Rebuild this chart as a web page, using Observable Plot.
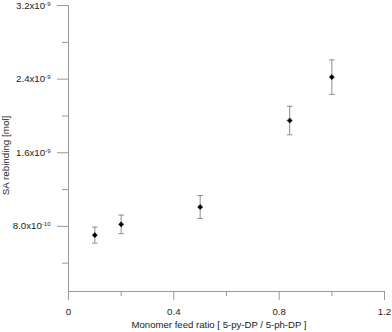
<!DOCTYPE html>
<html>
<head>
<meta charset="utf-8">
<script src="https://cdn.jsdelivr.net/npm/d3@7"></script>
<script src="https://cdn.jsdelivr.net/npm/@observablehq/plot@0.6"></script>
<style>
  html, body { margin: 0; padding: 0; background: #fff; }
  #chart svg { display: block; }
</style>
</head>
<body>
<div id="chart"></div>
<script>
// Data
const feedRatio = [0.1, 0.2, 0.5, 0.84, 1.0];
const rebinding = [0.705e-9, 0.822e-9, 1.010e-9, 1.950e-9, 2.422e-9];
const errorBar = [0.087e-9, 0.101e-9, 0.125e-9, 0.155e-9, 0.187e-9];

const xMajorTicks = [0, 0.4, 0.8, 1.2];
const xMinorTicks = [0.2, 0.6, 1.0];
const yMajorTicks = [0.8e-9, 1.6e-9, 2.4e-9, 3.2e-9];
const yMinorTicks = [0.4e-9, 1.2e-9, 2.0e-9, 2.8e-9];
const yTickLabels = ["8.0x10|-10", "1.6x10|-9", "2.4x10|-9", "3.2x10|-9"];

const xTitle = "Monomer feed ratio [ 5-py-DP / 5-ph-DP ]";
const yTitle = "SA rebinding [mol]";

const data = feedRatio.map((x, i) => ({
  x, y: rebinding[i], lo: rebinding[i] - errorBar[i], hi: rebinding[i] + errorBar[i]
}));

const yMin = 0.0925e-9;
const axisColor = "#9a9a9a";
const errColor = "#8c8c8c";

const capSymbol = {
  draw(ctx, size) {
    const w = Math.sqrt(size / Math.PI);
    ctx.moveTo(-w, 0);
    ctx.lineTo(w, 0);
  }
};

const chart = Plot.plot({
  width: 392,
  height: 332,
  marginLeft: 68,
  marginRight: 8,
  marginTop: 5,
  marginBottom: 41,
  style: {fontFamily: "'Liberation Sans', Arial, sans-serif", fontSize: "9.7px", color: "#222", background: "#fff"},
  x: {domain: [0, 1.2]},
  y: {domain: [yMin, 3.2e-9]},
  marks: [
    Plot.ruleX([0], {stroke: axisColor}),
    Plot.ruleY([yMin], {stroke: axisColor}),
    Plot.axisX({ticks: xMajorTicks, tickSize: 9, tickPadding: 8, stroke: axisColor, color: "#222",
      tickFormat: d => d === 0 ? "0" : d3.format(".1f")(d), label: null}),
    Plot.axisX({ticks: xMinorTicks, tickSize: 5, tickFormat: () => "", stroke: axisColor, label: null}),
    Plot.axisY({ticks: yMajorTicks, tickSize: 11, tickPadding: 7, stroke: axisColor,
      tickFormat: d => yTickLabels[yMajorTicks.findIndex(t => Math.abs(t - d) < 1e-12)], label: null}),
    Plot.axisY({ticks: yMinorTicks, tickSize: 6, tickFormat: () => "", stroke: axisColor, label: null}),
    Plot.ruleX(data, {x: "x", y1: "lo", y2: "hi", stroke: errColor, strokeWidth: 1}),
    Plot.dot(data, {x: "x", y: "lo", symbol: capSymbol, r: 2.8, stroke: errColor, strokeWidth: 1}),
    Plot.dot(data, {x: "x", y: "hi", symbol: capSymbol, r: 2.8, stroke: errColor, strokeWidth: 1}),
    Plot.dot(data, {x: "x", y: "y", symbol: "diamond2", r: 2.3, fill: "#000", stroke: "#000", strokeWidth: 0.5}),
    Plot.text([xTitle], {frameAnchor: "bottom", dx: -7.5, dy: 36, fill: "#222", fontSize: 9.6}),
    Plot.text([yTitle], {frameAnchor: "middle", textAnchor: "middle", rotate: -90, dx: -221, dy: 7, fill: "#222", fontSize: 9.8})
  ]
});

// Render exponents as superscripts
d3.select(chart).selectAll("text").each(function() {
  const t = this.textContent;
  if (t.includes("|")) {
    const [base, exp] = t.split("|");
    const sel = d3.select(this);
    sel.text(null);
    sel.append("tspan").text(base);
    sel.append("tspan").attr("dy", "-0.5em").attr("font-size", "6px").text(exp);
  }
});

document.getElementById("chart").appendChild(chart);
</script>
</body>
</html>
